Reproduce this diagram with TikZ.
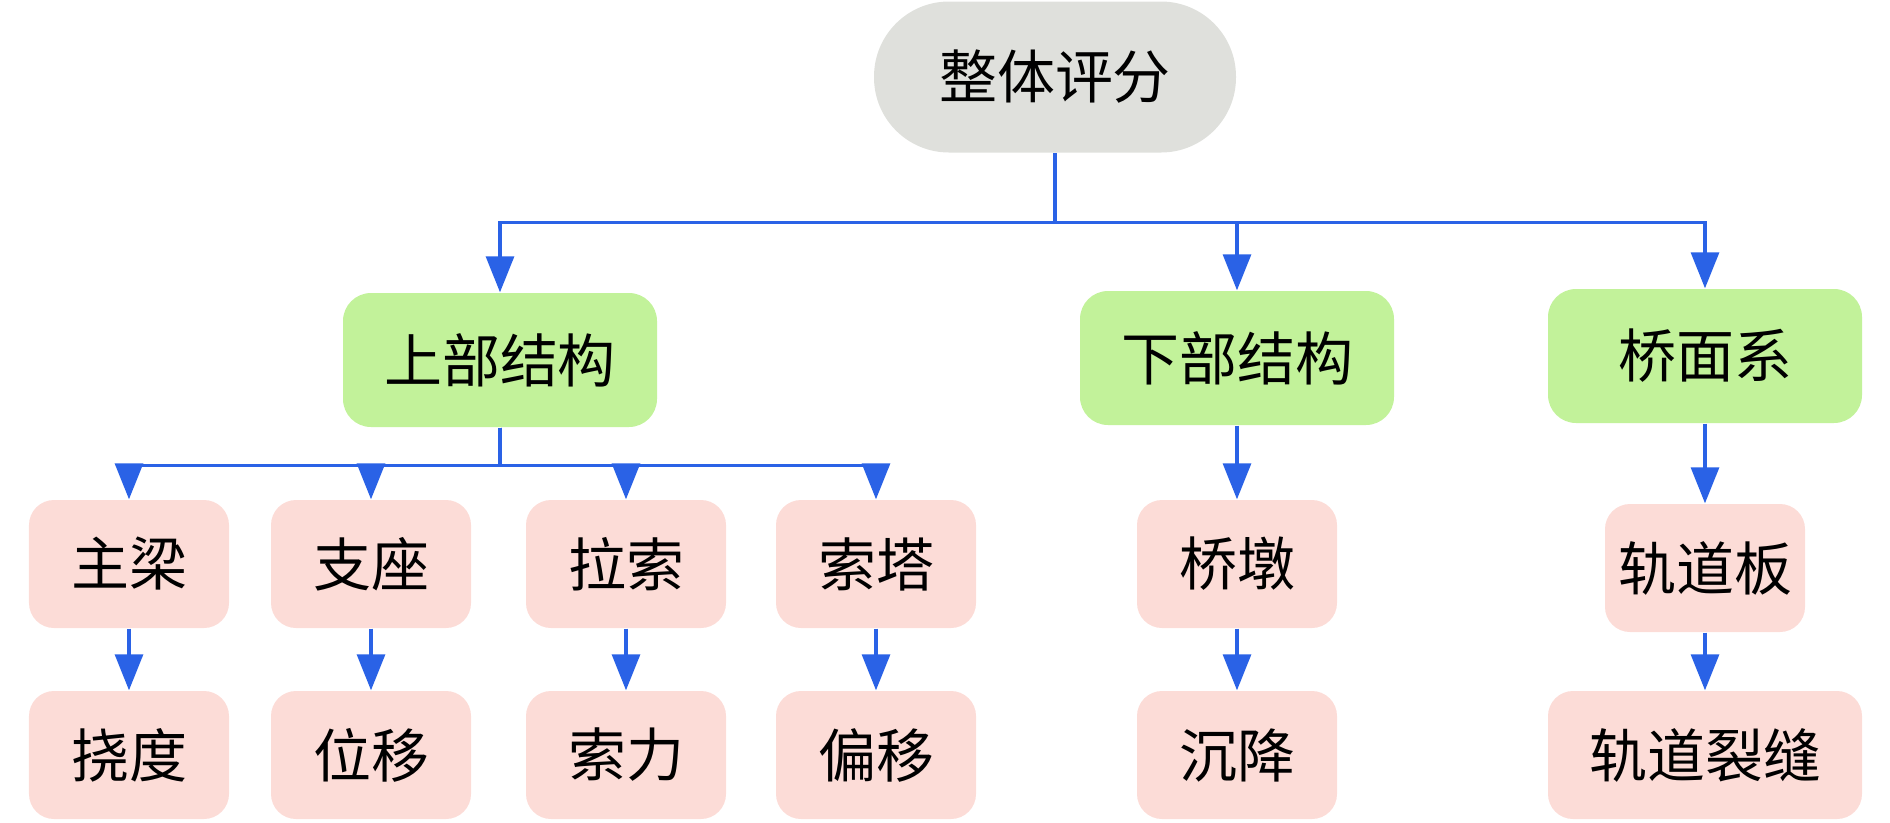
\documentclass[tikz,border=0pt]{standalone}
\usepackage{fontspec}
\usepackage{tikz}
\usetikzlibrary{arrows.meta,positioning,shapes}
\newfontfamily\cjk{Noto Sans CJK SC}
\definecolor{rootgray}{HTML}{DFE0DC}
\definecolor{partgreen}{HTML}{C2F29A}
\definecolor{leafpink}{HTML}{FCDCD7}
\definecolor{flowblue}{HTML}{2A62E6}
\tikzstyle{basebox} = [rectangle, text centered, inner sep=0pt, font=\cjk\fontsize{16.5}{20}\selectfont]
\tikzstyle{rootbox} = [basebox, rounded corners=0.75cm, minimum width=3.62cm, minimum height=1.51cm, fill=rootgray]
\tikzstyle{partbox} = [basebox, rounded corners=0.28cm, minimum width=3.14cm, minimum height=1.34cm, fill=partgreen]
\tikzstyle{leafbox} = [basebox, rounded corners=0.25cm, minimum width=2.0cm, minimum height=1.28cm, fill=leafpink]
\tikzstyle{flow}    = [line width=0.9pt, draw=flowblue, -{Triangle[width=0.28cm,length=0.36cm]}]
\begin{document}
\begin{tikzpicture}[]
		\useasboundingbox (0,0) rectangle (18.9,-8.22);

		\node[rootbox] (root) at (10.55,-0.77) {整体评分};

		\node[partbox] (up)   at (5.00,-3.60)  {上部结构};
		\node[partbox] (down) at (12.37,-3.58) {下部结构};
		\node[partbox] (deck) at (17.05,-3.56) {桥面系};

		\node[leafbox] (zl) at (1.29,-5.64)  {主梁};
		\node[leafbox] (zz) at (3.71,-5.64)  {支座};
		\node[leafbox] (ls) at (6.26,-5.64)  {拉索};
		\node[leafbox] (st) at (8.76,-5.64)  {索塔};
		\node[leafbox] (qd) at (12.37,-5.64) {桥墩};
		\node[leafbox] (gdb) at (17.05,-5.68) {轨道板};

		\node[leafbox] (nd) at (1.29,-7.55)  {挠度};
		\node[leafbox] (wy) at (3.71,-7.55)  {位移};
		\node[leafbox] (sl) at (6.26,-7.55)  {索力};
		\node[leafbox] (py) at (8.76,-7.55)  {偏移};
		\node[leafbox] (cj) at (12.37,-7.55) {沉降};
		\node[leafbox, minimum width=3.14cm] (lf) at (17.05,-7.55) {轨道裂缝};

		\draw[flow] (root.south) -- ++(0,-0.69) -| (up.north);
		\draw[flow] (root.south) -- ++(0,-0.69) -| (down.north);
		\draw[flow] (root.south) -- ++(0,-0.69) -| (deck.north);

		\draw[flow] (up.south) -- ++(0,-0.38) -| (zl.north);
		\draw[flow] (up.south) -- ++(0,-0.38) -| (zz.north);
		\draw[flow] (up.south) -- ++(0,-0.38) -| (ls.north);
		\draw[flow] (up.south) -- ++(0,-0.38) -| (st.north);
		\draw[flow] (down.south) -- (qd.north);
		\draw[flow] (deck.south) -- (gdb.north);

		\draw[flow] (zl.south) -- (nd.north);
		\draw[flow] (zz.south) -- (wy.north);
		\draw[flow] (ls.south) -- (sl.north);
		\draw[flow] (st.south) -- (py.north);
		\draw[flow] (qd.south) -- (cj.north);
		\draw[flow] (gdb.south) -- (lf.north);
	\end{tikzpicture}
\end{document}
